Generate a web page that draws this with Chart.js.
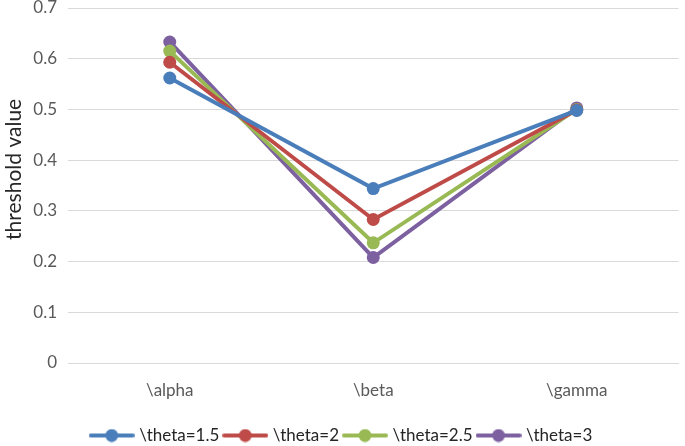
<!DOCTYPE html>
<html>
<head>
<meta charset="utf-8">
<script src="https://cdn.jsdelivr.net/npm/chart.js@4/dist/chart.umd.min.js"></script>
<style>
  html, body { margin: 0; padding: 0; background: #fff; overflow: hidden; }
  #wrap { width: 685px; height: 446px; overflow: hidden; }
</style>
</head>
<body>
<div id="wrap"><canvas id="chart" width="685" height="454"></canvas></div>
<script>
// data
const categories = ['\\alpha', '\\beta', '\\gamma'];
const seriesNames = ['\\theta=1.5', '\\theta=2', '\\theta=2.5', '\\theta=3'];
const theta15 = [0.562, 0.344, 0.498];
const theta2 = [0.593, 0.283, 0.499];
const theta25 = [0.615, 0.237, 0.500];
const theta3 = [0.633, 0.208, 0.503];
const colors = ['#4A7EBB', '#BE4B48', '#98B954', '#7D60A0'];

// little line + dot icon for the legend
function legendIcon(color) {
    const c = document.createElement('canvas');
    c.width = 46; c.height = 14;
    const ctx = c.getContext('2d');
    ctx.strokeStyle = color;
    ctx.lineWidth = 4;
    ctx.lineCap = 'round';
    ctx.beginPath();
    ctx.moveTo(2, 7);
    ctx.lineTo(44, 7);
    ctx.stroke();
    ctx.fillStyle = color;
    ctx.beginPath();
    ctx.arc(23, 7, 6.5, 0, Math.PI * 2);
    ctx.fill();
    return c;
}

const allValues = [theta15, theta2, theta25, theta3];
const datasets = allValues.map((vals, i) => ({
    label: seriesNames[i],
    data: vals,
    borderColor: colors[i],
    backgroundColor: colors[i],
    borderWidth: 4,
    pointRadius: 6.5,
    pointHoverRadius: 6.5,
    pointBorderWidth: 0,
    pointStyle: 'circle',
    tension: 0
}));

const FONT = 'Lato, "Open Sans", sans-serif';

new Chart(document.getElementById('chart'), {
    type: 'line',
    data: { labels: categories, datasets: datasets },
    options: {
        responsive: false,
        animation: false,
        layout: { padding: { left: 0, right: 0, top: 8, bottom: 0 } },
        plugins: {
            tooltip: { enabled: false },
            legend: {
                position: 'bottom',
                labels: {
                    usePointStyle: true,
                    pointStyleWidth: 38,
                    color: '#262626',
                    font: { family: FONT, size: 17 },
                    padding: 7,
                    generateLabels(chart) {
                        return chart.data.datasets.map((ds, i) => ({
                            text: ds.label,
                            pointStyle: legendIcon(colors[i]),
                            fillStyle: colors[i],
                            strokeStyle: colors[i],
                            lineWidth: 0,
                            hidden: false,
                            datasetIndex: i,
                            fontColor: '#262626'
                        }));
                    }
                }
            }
        },
        scales: {
            x: {
                offset: true,
                grid: { display: false, drawTicks: false },
                border: { color: '#D9D9D9', width: 1 },
                ticks: { color: '#595959', font: { family: FONT, size: 17 }, padding: 17 },
                afterFit(scale) { scale.height = 57; }
            },
            y: {
                min: 0,
                max: 0.7,
                ticks: {
                    stepSize: 0.1,
                    color: '#595959',
                    font: { family: FONT, size: 17 },
                    padding: 11,
                    callback: v => v === 0 ? '0' : v.toFixed(1)
                },
                grid: { color: '#D9D9D9', lineWidth: 1, drawTicks: false },
                border: { display: false },
                title: {
                    display: true,
                    text: '      threshold value',
                    color: '#262626',
                    font: { family: FONT, size: 21 },
                    padding: { top: 2, bottom: 4 }
                },
                afterFit(scale) {
                    scale.width = 68;
                    scale.paddingTop = 0;
                }
            }
        }
    }
});
</script>
</body>
</html>
